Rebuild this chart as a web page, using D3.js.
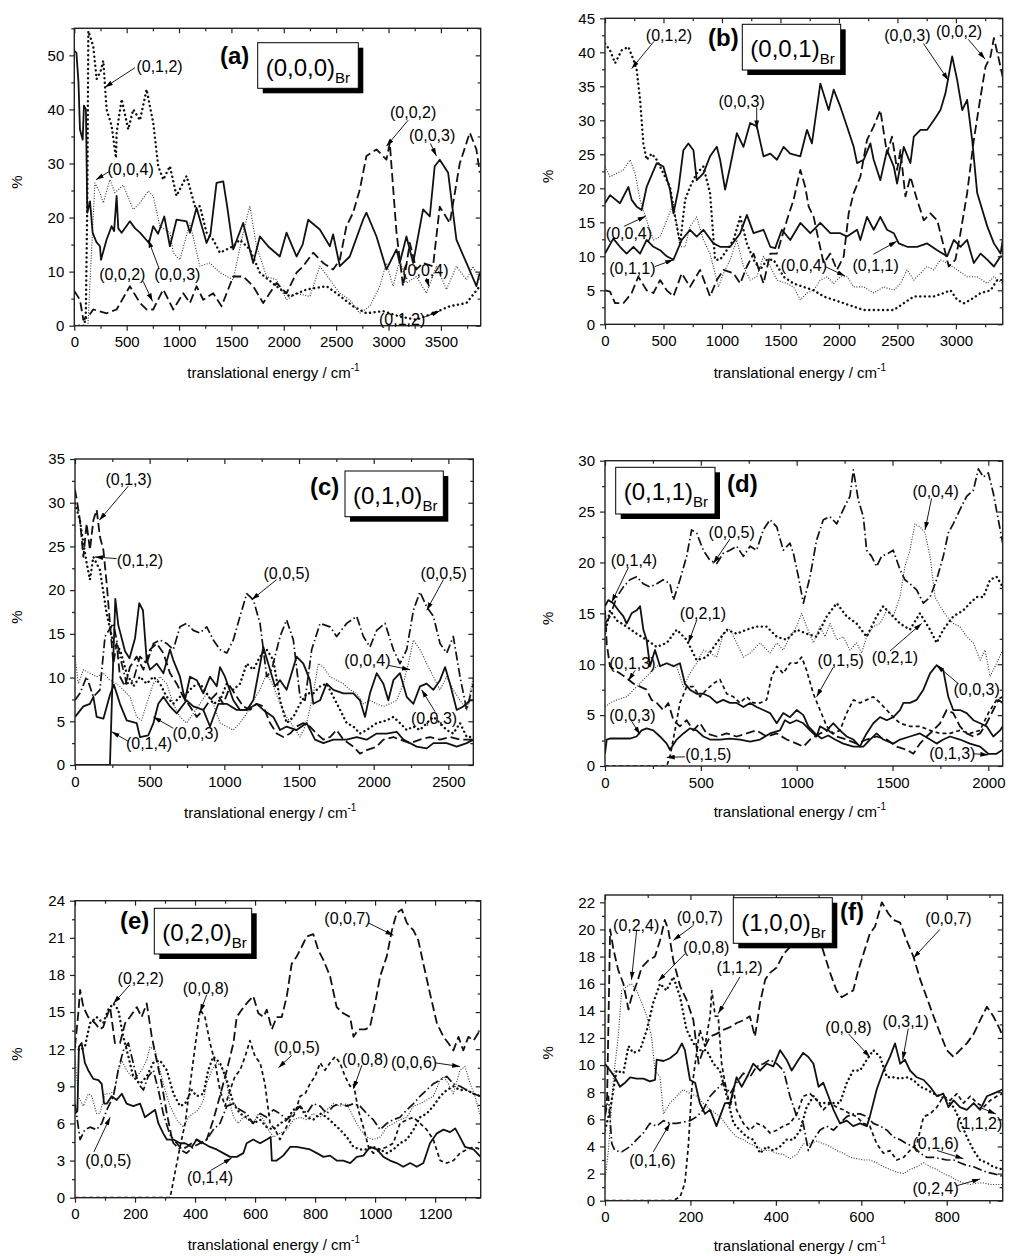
<!DOCTYPE html>
<html>
<head>
<meta charset="utf-8">
<script src="https://cdnjs.cloudflare.com/ajax/libs/d3/7.8.5/d3.min.js"></script>
<style>
  body { margin: 0; background: #fff; }
  svg { display: block; }
  text { font-family: "Liberation Sans", Arial, sans-serif; fill: #000; }
</style>
</head>
<body>
<svg id="chart" width="1009" height="1256"></svg>
<script>
// ── Data: [translational energy (cm-1), %] per product state ──

// (a) (0,0,0)Br
const a_003 = [[0,50.8],[20,50.5],[40,45],[54,36.3],[80,34.4],[92,40.7],[111,40],[124,20.9],[150,23],[175,17.2],[210,15.5],[245,14.7],[255,12.2],[308,15.9],[356,18.4],[380,17.5],[404,24],[420,18],[452,17.2],[531,19.3],[580,18],[627,17.2],[712,15.3],[753,18.4],[800,17],[859,20.2],[913,14.7],[976,19.6],[1072,19.3],[1104,17.2],[1167,21.8],[1263,15.3],[1300,17],[1358,26.4],[1422,26.7],[1460,22],[1517,14.1],[1612,19],[1708,11.6],[1772,16.5],[1860,14.5],[1962,12.8],[2026,17.2],[2122,12.8],[2180,15],[2233,19.6],[2344,17.8],[2440,14.7],[2471,16.9],[2535,11],[2630,12.8],[2757,19.6],[2789,20.9],[2885,16.5],[2980,10.4],[3076,14.1],[3107,11.6],[3171,16.5],[3235,11.6],[3330,21.5],[3394,20.2],[3441,29.5],[3489,30.7],[3569,28.3],[3648,15.9],[3744,11.6],[3839,7.3],[3871,9.8]];
const a_012 = [[0,0],[95,0],[110,2],[124,23],[134,54.5],[181,51.7],[213,45.6],[250,47],[277,49],[308,40],[356,37],[398,31],[404,35.7],[452,41.9],[515,36.3],[563,40],[627,38],[690,43.7],[754,37.5],[801,29.5],[849,27],[913,29.5],[976,24],[1072,27.7],[1151,22.1],[1199,22.1],[1263,17.2],[1326,15.9],[1390,13.5],[1517,14.7],[1580,15.9],[1676,14.1],[1772,9.8],[1930,7.3],[2058,5.4],[2217,6.7],[2408,7.3],[2503,6],[2662,3.6],[2789,2.3],[2948,2.7],[3107,1.7],[3266,1.1],[3425,2.3],[3585,3.6],[3744,4.2],[3871,7.3]];
const a_002 = [[0,6.4],[54,4.8],[86,1.1],[134,1.7],[181,3],[308,2.3],[404,3],[531,7.3],[627,4.2],[690,3],[753,3],[849,6.7],[945,3],[1040,6],[1104,4.2],[1167,7.3],[1231,4.8],[1326,6],[1406,3.6],[1517,9.1],[1612,9.1],[1708,7.3],[1803,4.2],[1930,7.9],[2026,6],[2122,9.8],[2185,11],[2281,13.5],[2376,11.6],[2471,10.4],[2535,12.2],[2598,18.4],[2662,20.9],[2726,25.2],[2789,31.4],[2885,32.6],[2980,30.7],[3012,33.8],[3076,17.2],[3139,7.3],[3203,15.3],[3266,10.4],[3330,11.6],[3425,11],[3489,22],[3585,19],[3680,30],[3776,35.7],[3839,32.6],[3871,28.3]];
const a_004 = [[0,0],[130,0],[160,12],[197,26.4],[245,24.6],[277,22.7],[340,27],[388,24.6],[467,26],[563,21.5],[627,22.7],[706,24.9],[753,24],[817,18.4],[913,17.2],[945,13.5],[1008,12.2],[1104,19],[1199,11],[1294,11.6],[1390,9.8],[1517,8.5],[1612,17.2],[1676,22.1],[1740,14.7],[1835,9.1],[1930,8.5],[2026,4.8],[2122,6],[2249,5.4],[2344,11],[2440,8.5],[2535,6],[2630,4.8],[2726,2.3],[2821,3.6],[2917,7.3],[2980,11.6],[3044,7.3],[3107,12.2],[3171,7.9],[3266,9.1],[3362,6],[3457,11],[3553,6.7],[3648,11],[3744,8.5],[3807,11],[3871,8.5]];
const a_notes = [["(0,1,2)",814,48,579,47.7,293,44.1],["(0,0,4)",538,28.9,340,28.6,207,27],["(0,0,2)",458,9.4,658,8.2,747,4.5],["(0,0,3)",983,9.4,811,10.5,706,15.9],["(0,0,2)",3235,39.4,3187,38,2980,33.2],["(0,0,3)",3416,35.1,3400,33.7,3457,31.4],["(0,0,4)",3352,10.2,3362,8.8,3387,7.2],["(0,1,2)",3130,1.2,3346,1.6,3489,2.7]];

// (b) (0,0,1)Br
const b_003 = [[0,17.8],[43,19],[128,17.8],[200,20.2],[228,18.3],[271,17.3],[314,16.8],[356,20.2],[442,23.7],[499,23.2],[556,19.8],[585,16.3],[627,19.8],[670,25.6],[713,26.6],[756,25.6],[784,21.2],[841,22.2],[898,24.7],[956,26.1],[984,24.2],[1027,19.8],[1070,23.2],[1127,28.1],[1184,26.1],[1241,29.6],[1298,29.1],[1355,24.7],[1413,25.1],[1470,24.2],[1527,26.1],[1584,25.1],[1670,24.7],[1727,28.6],[1769,26.6],[1841,35.4],[1912,31.5],[1955,34.5],[2012,32],[2069,29.1],[2126,26.1],[2155,23.7],[2212,24.2],[2269,26.6],[2297,24.2],[2354,21.2],[2411,25.6],[2469,23.2],[2497,20.7],[2554,26.1],[2611,23.7],[2640,27.6],[2697,28.6],[2754,28.6],[2811,30],[2868,31.5],[2911,34],[2968,39.4],[3011,35.9],[3054,31.5],[3096,33],[3139,27.1],[3182,19.3],[3268,14.4],[3325,11.9],[3382,10.4],[3400,12.4]];
const b_011 = [[0,10.4],[71,12.6],[128,11.4],[185,10.4],[243,11.4],[300,10.4],[356,12.4],[414,11.4],[471,10.9],[528,10],[585,9.5],[656,12.4],[727,13.9],[784,12.9],[841,13.9],[927,11.9],[984,11.4],[1070,11.4],[1156,13.4],[1213,16.1],[1270,13.4],[1355,13.9],[1413,11.4],[1455,11.2],[1512,13.9],[1584,12.4],[1670,14.9],[1755,13.4],[1841,14.9],[1926,13.4],[2012,13.4],[2069,12.9],[2155,13.9],[2183,12.4],[2240,15.8],[2297,13.9],[2354,15.8],[2411,13.9],[2469,13.4],[2511,11.9],[2583,11.4],[2668,11.4],[2754,11.9],[2840,10.9],[2925,10],[2982,12.4],[3039,11.4],[3096,12.4],[3153,9],[3211,10.4],[3268,9.5],[3325,8.5],[3382,10],[3400,10]];
const b_002 = [[0,5],[43,4.8],[86,3.1],[157,3.1],[228,4.6],[285,7],[356,5],[414,4.6],[471,6.5],[528,5],[585,4.1],[656,7.5],[727,5.5],[813,8],[898,4.1],[956,6.5],[1013,8],[1099,7.5],[1156,6],[1213,8.5],[1270,10.4],[1355,6],[1413,10.4],[1470,10.4],[1555,15.3],[1612,18.3],[1670,22.7],[1712,20.2],[1741,17.3],[1784,15.8],[1826,12.4],[1869,9],[1926,10.4],[1983,8],[2041,10],[2083,16.3],[2126,19.3],[2183,21.7],[2240,27.1],[2297,29.1],[2354,31.5],[2411,25.1],[2454,27.6],[2497,22.7],[2526,25.6],[2568,18.8],[2611,21.7],[2668,18.3],[2725,15.3],[2782,16.3],[2840,15.3],[2897,11.4],[2939,8.5],[2996,9.5],[3039,13.4],[3096,19.3],[3153,27.1],[3211,33.5],[3253,37.9],[3296,39.4],[3325,42.1],[3368,38.9],[3400,36.4]];
const b_012 = [[0,41.3],[43,40.3],[86,38.4],[143,40.3],[200,40.8],[243,38.9],[271,37.4],[300,33],[328,26.6],[356,24.2],[399,25.1],[442,24.2],[499,22.2],[556,20.2],[599,15.8],[642,11.9],[685,18.3],[727,20.2],[784,22.2],[841,23.2],[898,19.3],[941,9.5],[984,9.5],[1041,10.9],[1099,12.4],[1156,15.8],[1213,11.9],[1270,9.5],[1327,8],[1384,9.5],[1441,9.5],[1527,7],[1612,6],[1698,5.5],[1784,5],[1869,4.1],[1955,3.6],[2041,3.1],[2126,2.6],[2212,2.1],[2297,2.1],[2383,2.1],[2469,2.1],[2554,3.1],[2640,4.1],[2725,4.1],[2811,4.1],[2897,4.6],[2954,5],[3011,3.6],[3068,3.1],[3125,3.6],[3211,4.6],[3296,5],[3353,6.5],[3400,6.5]];
const b_004 = [[0,23.2],[43,21.7],[100,22.2],[157,22.7],[214,24.2],[257,22.2],[300,18.3],[356,15.3],[414,12.4],[471,12.9],[528,15.3],[585,17.8],[642,11.4],[685,11.4],[727,14.4],[784,15.8],[841,12.4],[898,10.4],[970,5.5],[1013,7.5],[1070,9.5],[1127,12.4],[1184,8.5],[1241,6.5],[1298,7],[1355,10],[1413,8.5],[1470,6.5],[1555,6],[1612,5.5],[1670,3.6],[1727,4.6],[1784,5],[1841,6.5],[1898,7],[1955,6],[2012,7],[2069,7],[2126,5.5],[2212,5.5],[2297,4.6],[2383,5.5],[2469,5],[2526,6],[2583,8],[2640,6.5],[2697,7.5],[2754,8.5],[2811,8],[2868,9.5],[2925,9],[3011,8],[3096,7],[3182,7],[3268,6],[3325,7],[3400,6]];
const b_notes = [["(0,1,2)",547,42.5,419,41.6,228,37.6],["(0,0,3)",2585,42.5,2722,41.3,2935,35.9],["(0,0,2)",3027,43,3106,41.9,3249,39],["(0,0,3)",1168,32.7,1297,31.9,1297,28.8],["(0,0,4)",205,13.4,162,14.4,348,15.9],["(0,1,1)",234,8.2,427,8.5,584,9.5],["(0,0,4)",1701,8.7,1881,8.5,2052,7.1],["(0,1,1)",2314,8.7,2294,10.3,2494,12.2]];

// (c) (0,1,0)Br
const c_014 = [[0,0],[234,0],[250,9],[270,19],[290,16],[335,13],[365,12.2],[402,14.5],[430,18.5],[455,17.7],[480,12],[502,10.9],[547,11.6],[592,10.5],[636,13.2],[658,12],[703,10.1],[736,7.4],[770,10.1],[815,9.7],[859,8.2],[904,10.1],[949,9],[971,11.2],[1004,10.1],[1060,7.4],[1105,6.3],[1150,6.3],[1194,7.4],[1261,13.5],[1306,10.9],[1339,9],[1373,9.7],[1417,8.6],[1484,12.4],[1529,11.6],[1573,9.7],[1596,7],[1641,7.4],[1685,9.3],[1730,8.6],[1797,8.2],[1864,8.2],[1908,7.4],[1942,5.5],[1975,8.2],[2020,10.5],[2065,9.3],[2098,7.4],[2132,9.7],[2176,10.5],[2221,7.8],[2266,7],[2310,9],[2355,9.3],[2400,8.6],[2444,9.7],[2478,11.2],[2511,9.3],[2556,6.3],[2600,6.7],[2645,7.4],[2667,7.4]];
const c_003 = [[0,5.5],[56,6.7],[100,7],[123,7.8],[145,5.5],[190,5.3],[234,8],[260,9.2],[301,7],[346,5.1],[413,4.8],[435,3.2],[491,3.4],[525,4.8],[558,7],[592,7.8],[636,6.7],[681,5.9],[748,7.4],[792,6.7],[859,6.3],[904,4.4],[960,7],[1016,7],[1083,6.3],[1150,6.3],[1217,7],[1261,6.3],[1328,5.5],[1373,4],[1417,4.4],[1484,4],[1551,4.8],[1607,2.9],[1663,2.5],[1730,2.9],[1819,2.9],[1886,3.2],[1953,2.9],[2020,3.6],[2087,3.6],[2154,3.8],[2199,2.9],[2288,2.1],[2355,1.9],[2400,2.5],[2489,2.5],[2556,2.1],[2623,2.5],[2667,2.9]];
const c_005 = [[0,7.4],[33,8.2],[78,10.1],[123,7.8],[167,8.6],[201,14.7],[257,16.2],[301,12.4],[346,9.3],[391,9.7],[435,12.4],[480,11.6],[525,13.9],[569,14.3],[614,13.9],[658,13.2],[703,15.8],[748,16.2],[792,15.4],[837,15.1],[882,15.8],[926,14.3],[971,13.2],[1016,12.8],[1060,14.3],[1105,17],[1150,19.6],[1194,18.9],[1239,16.2],[1284,10.1],[1317,10.9],[1373,14.7],[1417,16.6],[1462,14.3],[1507,7.8],[1540,7.4],[1585,13.2],[1641,16.2],[1708,15.8],[1752,14.7],[1819,16.2],[1886,17],[1931,14.7],[1975,13.5],[2020,15.4],[2076,16.2],[2132,13.2],[2176,11.6],[2221,13.2],[2266,17.7],[2310,19.8],[2355,18.1],[2400,17],[2444,13.9],[2489,12.8],[2533,14.7],[2578,10.1],[2623,6.3],[2667,9.3]];
const c_013 = [[0,31.5],[16,29.9],[33,28],[56,23.8],[78,27.6],[100,24.6],[123,28],[145,29.2],[167,26.1],[190,24.6],[212,20.8],[234,16.2],[257,11.6],[279,13.9],[301,10.1],[335,9],[368,11.2],[413,12.4],[458,10.9],[502,13.2],[547,13.9],[592,12.8],[636,10.5],[681,9.3],[725,7.8],[770,6.7],[815,5.5],[859,6.3],[904,7.4],[949,8.2],[993,7],[1038,9],[1083,7.8],[1127,6.7],[1172,6.3],[1217,7],[1261,6.7],[1306,4.8],[1351,3.6],[1395,3.2],[1440,3.6],[1484,4.4],[1529,4.8],[1573,4.4],[1618,3.6],[1663,2.9],[1708,3.2],[1752,4],[1797,2.9],[1864,2.1],[1908,1.3],[1953,1.7],[2020,2.1],[2065,2.9],[2132,3.2],[2176,2.9],[2243,2.5],[2310,2.9],[2377,3.2],[2444,2.9],[2511,3.2],[2578,2.9],[2667,2.9]];
const c_012 = [[0,29.9],[33,28],[56,25.4],[78,23.1],[100,21.2],[123,23.8],[167,22.3],[212,17.3],[257,13.9],[301,13.2],[346,10.5],[391,9],[435,10.1],[480,9.3],[525,10.1],[569,9.3],[614,7.8],[658,7],[703,7.8],[748,8.2],[792,9],[837,9.3],[882,8.2],[926,7],[971,7.4],[1016,9.3],[1060,8.6],[1105,9.3],[1150,11.6],[1194,10.9],[1239,12.4],[1284,13.2],[1328,12],[1373,7.4],[1417,4.8],[1462,5.5],[1507,7],[1551,8.2],[1596,8.2],[1641,9],[1685,9.3],[1730,7.8],[1775,6.3],[1819,4.8],[1864,4.4],[1908,3.6],[1953,4],[2020,4.8],[2087,5.1],[2132,5.5],[2176,4.8],[2221,4],[2266,4.4],[2310,4],[2355,4.8],[2400,5.5],[2444,4.8],[2489,4],[2533,3.6],[2578,4.8],[2623,3.2],[2667,3.2]];
const c_004 = [[0,12.4],[22,9.3],[56,10.9],[100,10.5],[145,10.1],[190,10.5],[234,9.7],[279,9.3],[324,8.6],[368,7.8],[413,5.5],[446,5.1],[480,7],[525,9.3],[569,10.1],[614,9.3],[658,7],[703,5.5],[748,4.8],[792,5.9],[837,7],[882,8.2],[926,7],[971,4.8],[1016,4.4],[1060,4],[1105,4.8],[1150,5.9],[1194,7.4],[1239,8.6],[1284,10.5],[1328,9],[1373,7],[1417,5.5],[1462,4.4],[1507,3.2],[1551,4.8],[1596,8.2],[1629,11.6],[1663,11.2],[1708,10.1],[1752,9.7],[1797,9.3],[1842,8.6],[1886,8.2],[1931,7],[1975,7.4],[2020,7],[2065,6.7],[2109,7],[2154,7.4],[2199,9.3],[2232,11.6],[2266,14.3],[2310,13.2],[2355,11.6],[2400,10.1],[2444,8.6],[2489,10.1],[2533,8.6],[2578,7.4],[2623,6.3],[2667,10.1]];
const c_notes = [["(0,1,3)",359,32.6,357,31.9,163,28],["(0,1,2)",435,23.4,279,23.6,134,23.8],["(0,0,5)",1417,21.9,1350,21.2,1183,18.9],["(0,0,5)",2469,21.9,2467,21.2,2355,17.7],["(0,0,4)",1958,12,2098,11.4,2243,10.9],["(0,0,3)",2404,5.3,2411,6.1,2321,8.6],["(0,0,3)",808,3.6,658,4.2,525,5.5],["(0,1,4)",496,2.5,357,2.7,246,3.8]];

// (d) (0,1,1)Br
const d_005 = [[0,14],[26,14.7],[61,16.6],[96,17.6],[130,18.3],[165,18.6],[200,17.9],[235,17.6],[270,17.9],[304,18.3],[339,17.9],[357,16.3],[391,18.3],[426,20.6],[452,23.2],[478,22.9],[513,21.2],[548,20.2],[583,19.9],[617,20.9],[652,21.2],[687,21.6],[722,20.6],[757,21.6],[791,21.2],[826,23.2],[861,24.2],[896,23.5],[930,21.2],[965,21.9],[983,20.9],[1009,18.6],[1035,16],[1070,18.6],[1104,22.2],[1139,24.2],[1174,24.5],[1209,23.8],[1243,25.2],[1278,26.5],[1296,29.1],[1322,26.1],[1348,24.5],[1365,21.2],[1391,20.6],[1417,19.6],[1443,20.6],[1478,20.9],[1504,21.2],[1539,19.3],[1565,18.3],[1591,17.9],[1626,17.3],[1661,16],[1696,16.6],[1730,18.3],[1765,20.6],[1791,22.9],[1817,23.8],[1852,25.2],[1887,26.5],[1922,27.1],[1948,29.2],[1974,28.4],[2000,28.8],[2026,26.8],[2052,24.2],[2075,21.9]];
const d_014 = [[0,15.7],[17,16.3],[43,16],[70,15.3],[96,14.7],[113,14],[139,15],[165,15.3],[183,15.7],[200,13.4],[217,12.4],[235,9.8],[261,11.4],[287,9.8],[322,10.1],[357,9.8],[391,10.1],[417,8.1],[443,7.5],[478,7.1],[513,7.1],[548,6.8],[583,6.2],[617,6.5],[652,6.2],[687,6.2],[722,5.8],[757,6.2],[791,5.8],[826,5.5],[861,5.2],[896,4.2],[930,5.2],[965,4.8],[1000,5.5],[1035,5],[1061,3.9],[1096,3.2],[1130,2.7],[1165,3],[1200,2.6],[1243,2.2],[1296,1.9],[1348,1.9],[1383,2.6],[1417,3.2],[1452,2.6],[1504,2.2],[1539,2.6],[1591,2.9],[1643,3.2],[1696,2.6],[1730,2.2],[1765,2.6],[1800,2.9],[1852,2.6],[1904,2.2],[1957,1.9],[2000,1.2],[2043,1.2],[2075,1.6]];
const d_003 = [[0,1.2],[9,2.6],[26,2.7],[78,2.7],[130,2.7],[165,2.9],[191,3.5],[217,3.7],[252,3.5],[287,2.9],[322,2.2],[339,1.6],[374,2.6],[409,3.2],[443,3.7],[478,3.5],[513,2.9],[548,2.6],[600,2.6],[652,2.7],[704,2.6],[757,2.4],[809,2.6],[861,3.2],[913,3.5],[939,4.5],[965,4.2],[1000,4.5],[1035,4.2],[1070,3.5],[1104,2.9],[1122,3.9],[1157,3.5],[1191,4.2],[1226,3.5],[1261,2.9],[1296,2.6],[1330,1.9],[1348,2.6],[1365,3.2],[1400,4.2],[1435,4.8],[1470,4.5],[1504,4.8],[1539,5.5],[1557,6.2],[1591,6.2],[1626,6.5],[1661,7.5],[1696,9.1],[1730,9.9],[1765,9.4],[1791,6.8],[1817,5.5],[1852,5.5],[1887,5.2],[1922,4.5],[1957,4.2],[1991,3.9],[2026,2.9],[2061,3.5],[2075,3.9]];
const d_004 = [[0,5.8],[26,6.2],[61,6.5],[113,6.8],[165,7.8],[217,8.8],[270,9.8],[322,10.1],[374,9.8],[409,7.8],[443,9.1],[478,10.1],[513,11.4],[548,11.1],[583,10.7],[617,13],[652,13.4],[687,12.1],[722,10.7],[757,11.1],[809,12.1],[861,11.1],[896,12.1],[930,11.4],[965,12.7],[1000,13.7],[1026,15],[1052,13.7],[1087,12.1],[1122,13.7],[1148,12.7],[1174,14],[1209,12.4],[1243,12.7],[1278,11.4],[1313,12.1],[1339,11.1],[1365,12.7],[1400,13.7],[1435,14],[1470,15.3],[1504,14.7],[1539,16.6],[1565,19.6],[1591,21.2],[1617,23.8],[1643,23.5],[1670,22.9],[1696,20.6],[1722,16.6],[1748,15.7],[1783,14.7],[1817,14],[1852,13.7],[1887,12.7],[1922,12.1],[1957,10.4],[1983,11.4],[2009,8.8],[2043,10.1],[2075,11.4]];
const d_021 = [[0,13],[26,15.3],[61,14.3],[113,13.7],[165,13],[217,12.4],[270,11.7],[322,12.1],[374,13.4],[426,12.4],[478,10.4],[530,10.7],[583,12.1],[635,13.4],[687,13],[739,13.4],[791,13.7],[843,13.7],[896,12.7],[948,12.4],[1000,13.4],[1052,13],[1104,12.7],[1157,14.7],[1209,16],[1261,14.7],[1313,14],[1365,12.7],[1417,14.7],[1452,15.7],[1487,15],[1539,14],[1591,13.4],[1643,15],[1696,13.4],[1730,12.1],[1765,13.4],[1817,14.7],[1870,15.3],[1904,16],[1939,16.6],[1974,16.6],[2009,18.3],[2043,18.6],[2075,17.6]];
const d_015 = [[0,0],[322,0],[339,0.9],[365,3.5],[391,6.2],[426,7.8],[461,7.8],[496,6.8],[530,7.5],[565,8.1],[600,8.5],[635,7.1],[670,6.8],[704,6.2],[739,6.8],[774,6.2],[809,6.2],[843,6.5],[870,8.8],[896,9.8],[930,9.1],[965,10.1],[1000,10.1],[1026,10.7],[1052,9.4],[1087,7.1],[1122,5.5],[1157,3.9],[1191,3.2],[1226,3.5],[1261,5.2],[1296,6.5],[1330,6.2],[1365,6.5],[1400,6.8],[1435,6.2],[1470,5.5],[1504,4.8],[1539,4.2],[1591,3.9],[1643,3.9],[1696,3.5],[1748,3.2],[1800,3.2],[1852,3.5],[1904,3.2],[1957,3.5],[2000,5.2],[2043,6.5],[2075,6.8]];
const d_013 = [[0,15.3],[9,12],[26,9.8],[52,9.4],[78,9.1],[122,8.5],[148,8.1],[183,7.8],[217,7.5],[243,6.5],[270,6.2],[304,5.5],[330,6.2],[357,4.5],[391,3.9],[426,4.5],[461,3.5],[496,4.2],[530,3.2],[583,2.9],[635,3.2],[687,2.9],[739,3.2],[791,3.5],[843,2.9],[896,3.2],[948,2.6],[1000,2.2],[1035,1.9],[1070,2.6],[1122,3.2],[1165,3.5],[1209,2.9],[1261,2.6],[1313,2.2],[1365,2.6],[1417,2.9],[1470,2.6],[1522,1.9],[1574,1.6],[1609,1.2],[1643,2.2],[1678,2.9],[1713,3.5],[1748,4.2],[1783,5.5],[1817,5.2],[1852,3.9],[1887,3.2],[1922,2.9],[1957,3.2],[1991,4.2],[2026,5.5],[2052,6.5],[2075,6.2]];
const d_notes = [["(0,0,5)",661,22.9,652,22.3,565,19.9],["(0,1,4)",151,20.2,122,19.5,35,16.1],["(0,2,1)",511,15,478,14.3,435,12.1],["(0,0,4)",1725,27,1704,26.3,1670,23.2],["(0,1,3)",143,10.1,157,9.4,122,8.4],["(0,1,5)",1230,10.4,1191,9.7,1104,6.8],["(0,2,1)",1513,10.7,1487,11.3,1652,14],["(0,0,3)",1939,7.5,1843,8.1,1730,9.9],["(0,0,3)",143,5,139,4.4,183,3.1],["(0,1,5)",539,1.1,417,0.9,322,0.85],["(0,1,3)",1812,1.2,1925,1.2,2000,1.1]];

// (e) (0,2,0)Br
const e_007 = [[0,12.2],[11,14.9],[17,16.8],[28,15.4],[44,14.6],[67,14.1],[83,13.6],[94,13.8],[117,15.4],[133,12.5],[150,12.5],[167,14.1],[183,14.6],[206,15.4],[222,14.6],[239,15.7],[256,13],[272,11.1],[289,9.2],[306,6.8],[322,4.9],[339,4.4],[356,3.9],[372,4.1],[389,4.4],[406,4.7],[422,4.4],[439,4.7],[461,6.3],[483,8.2],[506,10.3],[528,12.5],[539,14.6],[556,15.2],[572,15.7],[594,16.3],[611,14.9],[628,14.6],[639,15.2],[656,13.6],[672,14.6],[689,14.6],[706,16.3],[722,18.9],[739,19.5],[756,20.3],[772,21.1],[794,21.3],[811,20],[828,19.2],[850,17.9],[872,15.4],[894,14.9],[917,14.6],[928,13],[944,13.6],[967,13.6],[983,13.8],[1000,15.7],[1017,17.9],[1039,19.5],[1056,21.6],[1072,23],[1089,23.3],[1106,22.2],[1128,21.6],[1144,20.8],[1161,18.9],[1183,16.5],[1206,14.1],[1228,13],[1244,12.5],[1261,11.9],[1278,13],[1294,11.9],[1311,13],[1328,12.7],[1352,13.6]];
const e_014 = [[0,6.8],[8,7],[13,12.2],[22,12.5],[33,10.9],[44,10.3],[61,9.6],[78,9.5],[89,9.2],[97,7.6],[106,7.6],[122,8.2],[139,7.9],[156,8.4],[172,7.6],[194,7.4],[217,7.6],[233,6.5],[250,6.8],[267,7.1],[278,6],[294,5.2],[306,4.7],[328,4.7],[350,4.4],[367,4.4],[389,4.1],[406,4.7],[428,4.4],[450,4.1],[472,3.9],[494,3.6],[517,3.3],[539,3.3],[561,3.6],[572,4.4],[594,4.7],[617,4.4],[639,4.7],[652,4.9],[656,3],[672,3],[694,3.4],[717,4.1],[739,4.1],[761,4],[783,3.9],[806,3.6],[828,3.3],[850,3.4],[872,3],[894,3],[917,2.8],[939,3.3],[961,3.4],[983,4.1],[1006,3.9],[1028,3.3],[1050,3],[1072,2.8],[1094,2.5],[1117,2.8],[1139,2.5],[1161,2.8],[1183,4.4],[1206,5.2],[1228,5.5],[1250,5.3],[1267,5.6],[1283,4.9],[1300,4.1],[1328,3.9],[1352,3.3]];
const e_008 = [[0,0],[317,0],[333,2],[350,4.1],[367,6],[383,9],[400,12.2],[417,15.2],[433,14.6],[450,12.5],[467,10.9],[483,8.7],[500,7.4],[517,8.7],[533,9.8],[550,10.3],[567,11.4],[583,12.7],[600,11.4],[617,10.9],[633,9.2],[650,6],[667,5.5],[683,4.7],[700,5.5],[717,6.3],[733,6.8],[750,8.2],[767,8.4],[783,9.2],[800,9.8],[817,10.9],[833,10.3],[850,10.9],[867,11.4],[883,10.9],[900,9.8],[917,9],[928,9.2],[944,7.1],[961,5.7],[978,4.1],[994,3.6],[1017,3.9],[1039,4.1],[1061,4.4],[1083,6],[1106,6.3],[1128,6.5],[1150,6],[1172,5.5],[1194,4.7],[1217,3],[1239,2.8],[1261,3],[1283,3.6],[1306,3.9],[1328,4.1],[1352,3.9]];
const e_005 = [[0,7.6],[17,4.7],[33,5.5],[50,5.7],[72,5.5],[89,6],[106,7.1],[128,8.2],[144,10.3],[161,11.9],[178,12.5],[194,10.9],[211,9.2],[228,8.7],[244,9.8],[261,10.3],[278,8.7],[294,6.8],[311,5.5],[328,4.4],[350,3.9],[372,3.6],[394,4.1],[417,4.4],[439,4.7],[461,5.5],[483,6],[506,7.4],[528,7.6],[550,7.1],[572,6.8],[594,6],[617,6.8],[639,6.5],[661,7.1],[683,6.8],[706,6.3],[728,6.8],[750,7.4],[772,6.8],[794,7.6],[817,7.4],[839,6.8],[861,7.4],[883,7.6],[906,7.4],[928,7.6],[950,7.4],[972,6.8],[994,6.3],[1017,5.5],[1039,6],[1061,6.3],[1083,6.5],[1106,7.1],[1128,7.6],[1150,8.2],[1172,8.7],[1194,9.2],[1217,9.5],[1239,9.8],[1261,9.2],[1283,9],[1306,8.7],[1328,8.4],[1352,8.2]];
const e_022 = [[0,12.2],[17,11.9],[33,12.2],[50,14.1],[72,14.6],[94,14.1],[111,15.2],[128,15.7],[144,15.2],[161,13],[178,11.4],[194,9.8],[217,9.2],[239,9.8],[261,10.9],[283,11.1],[306,10.3],[328,8.4],[350,7.4],[367,7.6],[389,8.7],[406,8.2],[428,8.4],[444,10.3],[461,11.4],[483,10.9],[506,9.5],[528,7.6],[550,6.8],[572,6.5],[594,6],[617,6.3],[639,5.7],[661,5.5],[683,6],[706,6.3],[728,7.1],[750,7.4],[772,6.5],[794,6.3],[817,6.8],[839,6.5],[861,6],[883,5.5],[906,4.9],[928,4.1],[950,3.9],[972,3.9],[994,4.1],[1017,3.9],[1039,3.6],[1061,3.9],[1083,4.4],[1106,4.7],[1128,5.5],[1150,6.5],[1172,6.8],[1194,7.4],[1217,8.2],[1239,8.7],[1261,9],[1283,8.7],[1306,8.7],[1328,8.4],[1352,8.2]];
const e_006 = [[0,11.4],[11,8.2],[28,7.4],[44,8.4],[56,8.2],[72,6.8],[83,6.8],[100,8.4],[117,8.4],[133,8.7],[144,10.3],[156,11.1],[172,10.3],[189,9.8],[206,9.8],[222,10.3],[239,11.1],[250,12.2],[267,11.9],[283,10.3],[300,8.7],[317,7.4],[339,6.3],[361,5.7],[378,6.5],[394,6.8],[411,7.1],[428,7.9],[439,9.2],[456,10.3],[472,10.9],[489,10.6],[506,9.2],[517,7.6],[528,6.5],[544,6],[561,6.5],[578,6.3],[594,6],[611,6.8],[628,6.3],[644,5.5],[661,4.9],[683,5.2],[706,5.5],[728,6.3],[750,6.5],[772,6.3],[794,6.8],[817,6.5],[839,7.1],[861,7.6],[883,7.4],[906,7.6],[928,6.5],[950,5.5],[972,4.9],[994,4.7],[1017,4.9],[1039,5.7],[1061,6],[1083,6.3],[1106,6.5],[1128,7.4],[1150,7.6],[1172,7.9],[1194,8.2],[1217,9.5],[1228,9.8],[1244,9.2],[1261,8.4],[1283,10.3],[1300,10.6],[1317,9.2],[1333,8.2],[1352,6.5]];
const e_notes = [["(0,2,2)",219,17.7,183,17.2,128,15.7],["(0,0,8)",436,16.9,439,16.4,417,15],["(0,0,7)",908,22.6,978,22.2,1061,21.2],["(0,0,5)",739,12.1,722,11.5,678,10.5],["(0,0,8)",967,11.2,956,10.7,928,8.8],["(0,0,6)",1130,10.9,1200,10.9,1283,10.6],["(0,0,5)",111,3,63,3.7,117,6.5],["(0,1,4)",450,1.6,452,2.2,522,3.2]];

// (f) (1,0,0)Br
const f_007 = [[0,6.4],[5,7.7],[12,20],[20,18.5],[31,17],[43,16],[55,14.1],[62,15],[74,16],[86,17.2],[101,17.7],[117,18],[129,19.2],[140,20.7],[148,20],[160,17.7],[176,15.8],[191,14.8],[207,13.3],[219,10.1],[230,11.1],[246,12.1],[261,12.3],[277,12.6],[293,12.8],[308,13.1],[324,13.3],[339,13.6],[351,12.1],[363,14.6],[375,16.3],[386,16.8],[402,17.2],[418,18.2],[433,18.7],[449,19.2],[464,20],[480,20.9],[492,20.7],[503,19.2],[515,18],[527,16.8],[542,15.5],[554,15],[570,15.3],[581,15.5],[593,17],[605,18.2],[620,19.7],[632,20.2],[648,22],[663,21.2],[675,20.7],[691,20.5],[706,19.2],[722,18],[738,16.3],[753,15],[769,13.6],[785,12.3],[800,11.1],[816,10.6],[831,11.1],[847,11.6],[863,12.3],[878,13.3],[894,14.3],[909,13.6],[925,12.6],[931,12.1]];
const f_016 = [[0,6.2],[8,7.7],[16,4.2],[23,3.7],[39,3.6],[59,4],[74,4.5],[90,5],[105,5.7],[121,5.5],[137,5.9],[152,5.7],[168,5.7],[183,5.8],[199,5.9],[215,6.2],[230,6.7],[246,7.7],[261,8.2],[277,8.7],[293,7.9],[308,8.7],[324,9.4],[339,9.1],[355,9.9],[371,10.1],[386,10.4],[402,10.1],[418,9.6],[433,7.7],[449,6.2],[464,5.7],[476,3.7],[488,4.5],[503,5.2],[519,5.5],[535,5.2],[550,5.7],[566,6.2],[581,6.4],[597,6.4],[613,6.2],[628,5.7],[644,5.5],[660,5.2],[675,4.7],[691,4.5],[706,4.2],[722,4],[738,3.5],[753,3.2],[769,3.2],[785,3.1],[800,3],[816,3],[831,2.8],[847,2.6],[863,2.5],[878,2.3],[894,2.1],[909,2],[931,1.8]];
const f_112 = [[0,0],[160,0],[176,0.3],[187,1.3],[195,4],[203,8.2],[211,10.1],[222,12.6],[234,11.4],[246,13.6],[250,15.5],[258,13.6],[265,13.6],[273,10.1],[281,8.7],[293,6.9],[301,8.2],[308,6.7],[324,5.7],[339,5.2],[355,5.7],[371,5.5],[386,5],[402,5.2],[418,5.5],[433,5.7],[449,6.4],[464,7.7],[480,7.9],[496,7.4],[511,6.7],[527,7.2],[542,6.9],[558,6.7],[574,6.4],[589,6.2],[605,5.7],[620,5.5],[636,4.2],[652,3.5],[667,3.7],[683,3],[699,3.2],[714,3.7],[730,4.2],[746,6.2],[761,6.4],[777,6.9],[792,7.7],[808,7.4],[824,7.9],[839,7.2],[855,7.7],[871,7.2],[886,6.9],[902,7.4],[917,7.7],[931,7.9]];
const f_031 = [[0,10.1],[12,9.6],[23,9.1],[35,8.4],[47,8.7],[59,9.1],[74,9],[90,9],[105,8.8],[117,8.9],[121,10.4],[137,10.3],[152,10.5],[168,10.9],[180,11.6],[187,11.1],[199,8.9],[211,8.7],[222,7.2],[234,6.4],[246,6.7],[261,5.5],[269,6.2],[281,7.2],[293,7.2],[308,9.1],[320,8.4],[332,9.1],[347,10.1],[363,9.6],[379,10.1],[394,9.9],[410,11.1],[425,10.4],[437,9.6],[453,10.4],[464,10.9],[476,10.6],[488,10.1],[500,8.4],[511,8.7],[523,7.7],[535,6.7],[550,5.7],[566,5.9],[581,5.5],[597,5.7],[613,5.5],[620,6.2],[636,8.2],[652,9.6],[667,10.6],[679,11.6],[691,10.1],[702,10.4],[714,9.6],[730,9.1],[746,8.9],[761,8.4],[777,7.7],[792,7.9],[804,6.9],[816,7.4],[831,6.9],[847,6.7],[863,7.2],[878,6.7],[894,7.7],[909,7.9],[931,8.2]];
const f_008 = [[0,5.2],[12,6.7],[27,9.6],[43,9.4],[55,11.4],[66,10.9],[82,11.1],[98,12.6],[113,14.6],[129,16],[144,15.5],[160,16.5],[176,15],[191,12.6],[207,11.6],[222,11.1],[238,11.1],[254,10.1],[269,9.6],[285,7.7],[301,5.7],[316,5.2],[332,4.7],[347,4.5],[363,3.5],[379,4],[394,3.7],[410,4],[425,4.5],[441,4.5],[457,5.2],[472,6.9],[488,7.7],[503,7.2],[519,7.2],[535,7.2],[550,7.2],[566,8.7],[581,9.6],[597,9.6],[613,10.4],[628,11.1],[644,10.6],[660,9.1],[675,9.1],[691,9],[706,9.1],[722,8.9],[738,8.4],[753,8.2],[769,7.9],[785,7.7],[800,7.4],[816,6.9],[831,5.9],[847,4.7],[863,3.7],[878,3],[894,2.8],[909,2.5],[931,2.3]];
const f_024 = [[0,1.5],[8,3.7],[20,9.1],[31,12.1],[39,15.5],[51,15.8],[62,16],[74,15.5],[86,14.6],[98,13.6],[109,12.1],[117,9.6],[129,9.1],[137,6.4],[152,7.2],[168,7.7],[183,8.2],[199,7.9],[215,7.7],[230,7.2],[246,6.7],[261,6.4],[277,5.9],[293,5.2],[308,4.7],[324,4.5],[339,4.2],[355,4],[371,3.7],[386,3.7],[402,3.5],[418,3.4],[433,3.1],[449,3.4],[464,4.2],[480,4.2],[496,4.4],[511,4.2],[527,4],[542,3.7],[558,3.5],[574,3.2],[589,3.1],[605,3],[620,3],[636,2.8],[652,2.5],[667,2.3],[683,2.1],[699,2],[714,2.3],[730,2.5],[746,2.8],[761,2.5],[777,2.3],[792,2],[808,1.8],[824,1.5],[839,1.3],[855,1.2],[871,1.3],[886,1.3],[902,1.2],[931,1.2]];
const f_notes = [["(0,2,4)",73,20.3,74,19.9,62,16.3],["(0,0,7)",222,20.9,207,20.3,160,19.2],["(0,0,8)",237,18.7,187,18.2,125,16.2],["(1,1,2)",315,17.2,316,16.5,265,13.8],["(0,0,7)",804,20.8,784,20,722,17.9],["(0,0,8)",570,12.8,570,12.3,620,10.6],["(0,3,1)",704,13.2,710,12.7,697,10.4],["(1,1,2)",876,5.7,876,6.9,915,6.4],["(0,1,6)",111,3,113,3.6,152,5.7],["(0,1,6)",774,4.2,777,3.7,839,3.1],["(0,2,4)",774,0.9,823,1.1,878,1.6]];

// ── Line styles ──
const STYLE = {
  solid:   { dash: null,          w: 1.8, c: "#111" },
  dash:    { dash: "9,4",         w: 1.8, c: "#111" },
  short:   { dash: "4,3",         w: 1.7, c: "#111" },
  dot:     { dash: "0.1,4.5",     w: 2.4, c: "#111", cap: "round" },
  fine:    { dash: "1,1.6",       w: 1.1, c: "#333" },
  dashdot: { dash: "9,3,1.5,3",   w: 1.7, c: "#111" }
};

// ── Panel layout ──
const panels = [
  { tag: "(a)", tagX: 220, tagY: 64, state: "(0,0,0)", box: [257.7, 42.7, 100.6, 45.6],
    left: 74.3, right: 480.7, top: 28.3, bottom: 325.7, xMax: 3880, yMax: 55,
    xStep: 500, xMinor: 250, yStep: 10, yMinor: 5, titleY: 378, pctX: 18,
    series: [[a_004, "fine"], [a_002, "dash"], [a_012, "dot"], [a_003, "solid"]], notes: a_notes },
  { tag: "(b)", tagX: 708, tagY: 46, state: "(0,0,1)", box: [742.3, 24.3, 98.4, 45.7],
    left: 605, right: 1002.7, top: 18.3, bottom: 324.3, xMax: 3400, yMax: 45,
    xStep: 500, xMinor: 250, yStep: 5, yMinor: 2.5, titleY: 378, pctX: 549,
    series: [[b_004, "fine"], [b_002, "dash"], [b_012, "dot"], [b_011, "solid"], [b_003, "solid"]], notes: b_notes },
  { tag: "(c)", tagX: 310, tagY: 495, state: "(0,1,0)", box: [345, 471, 98.3, 45.7],
    left: 75, right: 473.3, top: 459, bottom: 765, xMax: 2667, yMax: 35,
    xStep: 500, xMinor: 250, yStep: 5, yMinor: 2.5, titleY: 818, pctX: 18,
    series: [[c_004, "fine"], [c_012, "dot"], [c_013, "dash"], [c_005, "dashdot"], [c_003, "solid"], [c_014, "solid"]], notes: c_notes },
  { tag: "(d)", tagX: 727, tagY: 492, state: "(0,1,1)", box: [615.7, 467.3, 99.3, 46.7],
    left: 605, right: 1002.7, top: 460.7, bottom: 766, xMax: 2075, yMax: 30,
    xStep: 500, xMinor: 250, yStep: 5, yMinor: 2.5, titleY: 817, pctX: 549,
    series: [[d_004, "fine"], [d_021, "dot"], [d_015, "short"], [d_013, "dash"], [d_005, "dashdot"], [d_003, "solid"], [d_014, "solid"]], notes: d_notes },
  { tag: "(e)", tagX: 120, tagY: 929, state: "(0,2,0)", box: [154.3, 908.3, 97.4, 45.7],
    left: 75, right: 480.7, top: 900.7, bottom: 1197.7, xMax: 1352, yMax: 24,
    xStep: 200, xMinor: 100, yStep: 3, yMinor: 1.5, titleY: 1250, pctX: 18,
    series: [[e_006, "fine"], [e_022, "dot"], [e_005, "dashdot"], [e_008, "short"], [e_007, "dash"], [e_014, "solid"]], notes: e_notes },
  { tag: "(f)", tagX: 840, tagY: 920, state: "(1,0,0)", box: [733.3, 897.7, 99, 45.6],
    left: 605, right: 1002.7, top: 895, bottom: 1200.7, xMax: 931, yMax: 22.54,
    xStep: 200, xMinor: 100, yStep: 2, yMinor: 1, titleY: 1251, pctX: 549,
    series: [[f_024, "fine"], [f_008, "dot"], [f_016, "dashdot"], [f_112, "short"], [f_007, "dash"], [f_031, "solid"]], notes: f_notes }
];

const svg = d3.select("#chart");
const FONT = '"Liberation Sans", Arial, sans-serif';

svg.append("defs").append("marker")
    .attr("id", "arr")
    .attr("viewBox", "0 0 10 6")
    .attr("refX", 10).attr("refY", 3)
    .attr("markerWidth", 8).attr("markerHeight", 5)
    .attr("markerUnits", "userSpaceOnUse")
    .attr("orient", "auto")
  .append("path")
    .attr("d", "M0,0L10,3L0,6Z")
    .attr("fill", "#000");

panels.forEach((p, i) => {
    const x = d3.scaleLinear().domain([0, p.xMax]).range([p.left, p.right]);
    const y = d3.scaleLinear().domain([0, p.yMax]).range([p.bottom, p.top]);
    const g = svg.append("g");

    const clipId = "clip" + i;
    svg.select("defs").append("clipPath").attr("id", clipId)
      .append("rect")
        .attr("x", p.left).attr("y", p.top)
        .attr("width", p.right - p.left).attr("height", p.bottom - p.top);

    // ── Series ──
    const line = d3.line().x(d => x(d[0])).y(d => y(d[1]));
    const lines = g.append("g").attr("clip-path", `url(#${clipId})`);
    p.series.forEach(([data, style]) => {
        const s = STYLE[style];
        lines.append("path")
            .datum(data)
            .attr("d", line)
            .attr("fill", "none")
            .attr("stroke", s.c)
            .attr("stroke-width", s.w)
            .attr("stroke-dasharray", s.dash)
            .attr("stroke-linecap", s.cap || "butt")
            .attr("stroke-linejoin", "round");
    });

    // ── Axes ──
    const xMajor = d3.range(0, p.xMax + 1e-6, p.xStep);
    const yMajor = d3.range(0, p.yMax + 1e-6, p.yStep);
    const xMin = d3.range(0, p.xMax + 1e-6, p.xMinor).filter(v => Math.abs(v / p.xStep - Math.round(v / p.xStep)) > 1e-6);
    const yMin = d3.range(0, p.yMax + 1e-6, p.yMinor).filter(v => Math.abs(v / p.yStep - Math.round(v / p.yStep)) > 1e-6);

    const styleAxis = sel => {
        sel.select(".domain").remove();
        sel.selectAll("line").attr("stroke", "#222").attr("stroke-width", 1.2);
        sel.selectAll("text").attr("font-size", 15).attr("font-family", FONT).attr("fill", "#000");
    };

    g.append("g").attr("transform", `translate(0,${p.bottom})`)
        .call(d3.axisBottom(x).tickValues(xMajor).tickSize(5).tickPadding(6).tickFormat(d3.format("d")))
        .call(styleAxis);
    g.append("g").attr("transform", `translate(0,${p.bottom})`)
        .call(d3.axisBottom(x).tickValues(xMin).tickSize(3).tickFormat(""))
        .call(styleAxis);
    g.append("g").attr("transform", `translate(${p.left},0)`)
        .call(d3.axisLeft(y).tickValues(yMajor).tickSize(5).tickPadding(5).tickFormat(d3.format("d")))
        .call(styleAxis);
    g.append("g").attr("transform", `translate(${p.left},0)`)
        .call(d3.axisLeft(y).tickValues(yMin).tickSize(3).tickFormat(""))
        .call(styleAxis);
    // inward ticks on top and right
    g.append("g").attr("transform", `translate(0,${p.top})`)
        .call(d3.axisTop(x).tickValues(xMajor).tickSize(-5).tickFormat(""))
        .call(styleAxis);
    g.append("g").attr("transform", `translate(0,${p.top})`)
        .call(d3.axisTop(x).tickValues(xMin).tickSize(-3).tickFormat(""))
        .call(styleAxis);
    g.append("g").attr("transform", `translate(${p.right},0)`)
        .call(d3.axisRight(y).tickValues(yMajor).tickSize(-5).tickFormat(""))
        .call(styleAxis);
    g.append("g").attr("transform", `translate(${p.right},0)`)
        .call(d3.axisRight(y).tickValues(yMin).tickSize(-3).tickFormat(""))
        .call(styleAxis);

    g.append("rect")
        .attr("x", p.left).attr("y", p.top)
        .attr("width", p.right - p.left).attr("height", p.bottom - p.top)
        .attr("fill", "none").attr("stroke", "#222").attr("stroke-width", 1.4);

    // ── Titles ──
    const xt = g.append("text")
        .attr("x", (p.left + p.right) / 2 - 4).attr("y", p.titleY)
        .attr("text-anchor", "middle").attr("font-size", 15)
        .text("translational energy / cm");
    xt.append("tspan").attr("font-size", 10).attr("dy", -7).text("-1");

    g.append("text")
        .attr("transform", `translate(${p.pctX},${(p.top + p.bottom) / 2 + 5}) rotate(-90)`)
        .attr("text-anchor", "middle").attr("dominant-baseline", "middle")
        .attr("font-size", 15)
        .text("%");

    // ── State box with shadow ──
    const [bx, by, bw, bh] = p.box;
    g.append("rect").attr("x", bx + 5).attr("y", by + 5).attr("width", bw).attr("height", bh).attr("fill", "#000");
    g.append("rect").attr("x", bx).attr("y", by).attr("width", bw).attr("height", bh)
        .attr("fill", "#fff").attr("stroke", "#000").attr("stroke-width", 1);
    const st = g.append("text").attr("x", bx + 8).attr("y", by + 33).attr("font-size", 24).text(p.state);
    st.append("tspan").attr("font-size", 15).attr("dy", 7).text("Br");

    g.append("text")
        .attr("x", p.tagX).attr("y", p.tagY)
        .attr("font-size", 24).attr("font-weight", "bold")
        .text(p.tag);

    // ── Annotations ──
    const notes = g.append("g");
    p.notes.forEach(([t, tx, ty, fx, fy, ax, ay]) => {
        notes.append("line")
            .attr("x1", x(fx)).attr("y1", y(fy))
            .attr("x2", x(ax)).attr("y2", y(ay))
            .attr("stroke", "#000").attr("stroke-width", 0.9)
            .attr("marker-end", "url(#arr)");
        notes.append("text")
            .attr("x", x(tx)).attr("y", y(ty))
            .attr("text-anchor", "middle").attr("dominant-baseline", "central")
            .attr("font-size", 16)
            .text(t);
    });
});
</script>
</body>
</html>
